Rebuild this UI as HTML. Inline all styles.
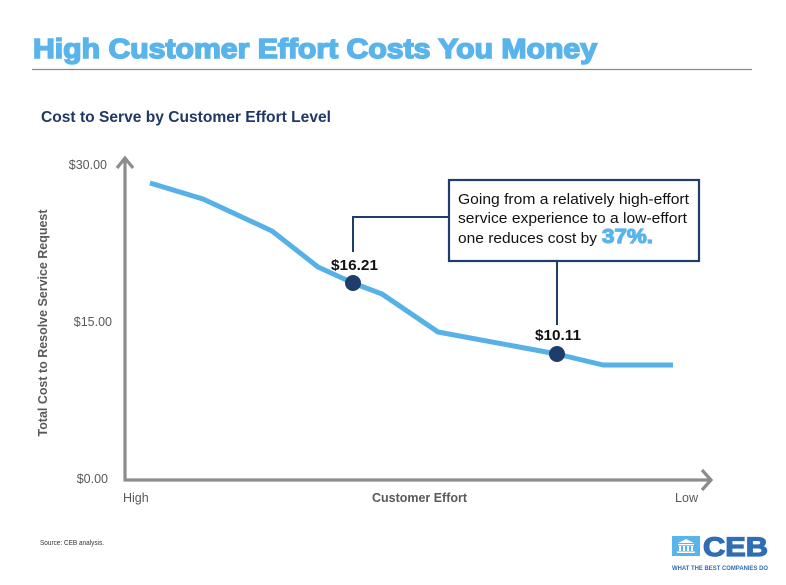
<!DOCTYPE html>
<html>
<head>
<meta charset="utf-8">
<style>
  html,body{margin:0;padding:0;background:#fff;}
  svg{display:block;}
  text{font-family:"Liberation Sans", Arial, sans-serif;}
</style>
</head>
<body>
<svg width="786" height="585" viewBox="0 0 786 585" xmlns="http://www.w3.org/2000/svg">
  <rect width="786" height="585" fill="#ffffff"/>

  <!-- Title -->
  <text x="33" y="58" font-size="28" font-weight="bold" fill="#5ab4ec" stroke="#5ab4ec" stroke-width="1.6" textLength="564" lengthAdjust="spacingAndGlyphs">High Customer Effort Costs You Money</text>
  <line x1="32" y1="69.5" x2="752" y2="69.5" stroke="#8a8a8a" stroke-width="1.3"/>

  <!-- Subtitle -->
  <text x="41" y="122" font-size="15.5" font-weight="bold" fill="#1f3864" textLength="290" lengthAdjust="spacingAndGlyphs">Cost to Serve by Customer Effort Level</text>

  <!-- Y tick labels -->
  <text x="107" y="169" font-size="12.5" fill="#595959" text-anchor="end">$30.00</text>
  <text x="112" y="326" font-size="12.5" fill="#595959" text-anchor="end">$15.00</text>
  <text x="108" y="483" font-size="12.5" fill="#595959" text-anchor="end">$0.00</text>

  <!-- Y axis title -->
  <text transform="translate(47,323) rotate(-90)" x="0" y="0" font-size="12.5" font-weight="bold" fill="#595959" text-anchor="middle" textLength="227" lengthAdjust="spacingAndGlyphs">Total Cost to Resolve Service Request</text>

  <!-- Axes -->
  <polyline points="125,158 125,480 710,480" fill="none" stroke="#8c8c8c" stroke-width="3.2" stroke-linejoin="miter"/>
  <polyline points="117,168 125,158 133,168" fill="none" stroke="#8c8c8c" stroke-width="3.2"/>
  <polyline points="702,470 711,480 702,490" fill="none" stroke="#8c8c8c" stroke-width="3.2"/>

  <!-- X labels -->
  <text x="123" y="502" font-size="12.5" fill="#595959">High</text>
  <text x="372" y="502" font-size="12.5" font-weight="bold" fill="#595959" textLength="95" lengthAdjust="spacingAndGlyphs">Customer Effort</text>
  <text x="675" y="502" font-size="12.5" fill="#595959" textLength="23" lengthAdjust="spacingAndGlyphs">Low</text>

  <!-- Series line -->
  <polyline points="150,183 203,199 272,231 318,267 353,283 382,294 438,332 557,354 603,365 673,365" fill="none" stroke="#56b1e7" stroke-width="5" stroke-linejoin="round"/>

  <!-- Connectors -->
  <polyline points="353,252 353,217 449,217" fill="none" stroke="#1f3d6b" stroke-width="2"/>
  <line x1="557" y1="261" x2="557" y2="325" stroke="#1f3d6b" stroke-width="2"/>

  <!-- Callout box -->
  <rect x="449" y="180" width="250" height="81" fill="#ffffff" stroke="#1f3d6b" stroke-width="2.2"/>
  <text x="458" y="204" font-size="15" fill="#111" textLength="231" lengthAdjust="spacingAndGlyphs">Going from a relatively high-effort</text>
  <text x="458" y="223" font-size="15" fill="#111" textLength="229" lengthAdjust="spacingAndGlyphs">service experience to a low-effort</text>
  <text x="458" y="243" font-size="15" fill="#111" textLength="139" lengthAdjust="spacingAndGlyphs">one reduces cost by</text>
  <text x="602" y="243" font-size="20" font-weight="bold" fill="#5ab4ec" stroke="#5ab4ec" stroke-width="1.2" textLength="51" lengthAdjust="spacingAndGlyphs">37%.</text>

  <!-- Markers -->
  <circle cx="353" cy="283" r="8" fill="#1f3d6b"/>
  <circle cx="557" cy="354" r="8" fill="#1f3d6b"/>
  <text x="354.5" y="270" font-size="15" font-weight="bold" fill="#111" text-anchor="middle" textLength="47" lengthAdjust="spacingAndGlyphs">$16.21</text>
  <text x="558" y="340" font-size="15" font-weight="bold" fill="#111" text-anchor="middle" textLength="46" lengthAdjust="spacingAndGlyphs">$10.11</text>

  <!-- Source -->
  <text x="40" y="545" font-size="7" fill="#333" textLength="64" lengthAdjust="spacingAndGlyphs">Source:  CEB analysis.</text>

  <!-- CEB logo -->
  <rect x="672" y="536" width="28" height="20" fill="#5ab4ec"/>
  <polygon points="678,543 686,539 694,543" fill="#ffffff"/>
  <rect x="678" y="544" width="16" height="1.3" fill="#ffffff"/>
  <rect x="679" y="546" width="2" height="5" fill="#ffffff"/>
  <rect x="683" y="546" width="2" height="5" fill="#ffffff"/>
  <rect x="687" y="546" width="2" height="5" fill="#ffffff"/>
  <rect x="691" y="546" width="2" height="5" fill="#ffffff"/>
  <rect x="677" y="551.5" width="18" height="1.5" fill="#ffffff"/>
  <text x="703" y="556" font-size="27" font-weight="bold" fill="#2f6db5" stroke="#2f6db5" stroke-width="1.2" textLength="65" lengthAdjust="spacingAndGlyphs">CEB</text>
  <text x="672" y="570" font-size="6" font-weight="bold" fill="#2f6db5" textLength="96" lengthAdjust="spacingAndGlyphs">WHAT THE BEST COMPANIES DO</text>
</svg>
</body>
</html>
